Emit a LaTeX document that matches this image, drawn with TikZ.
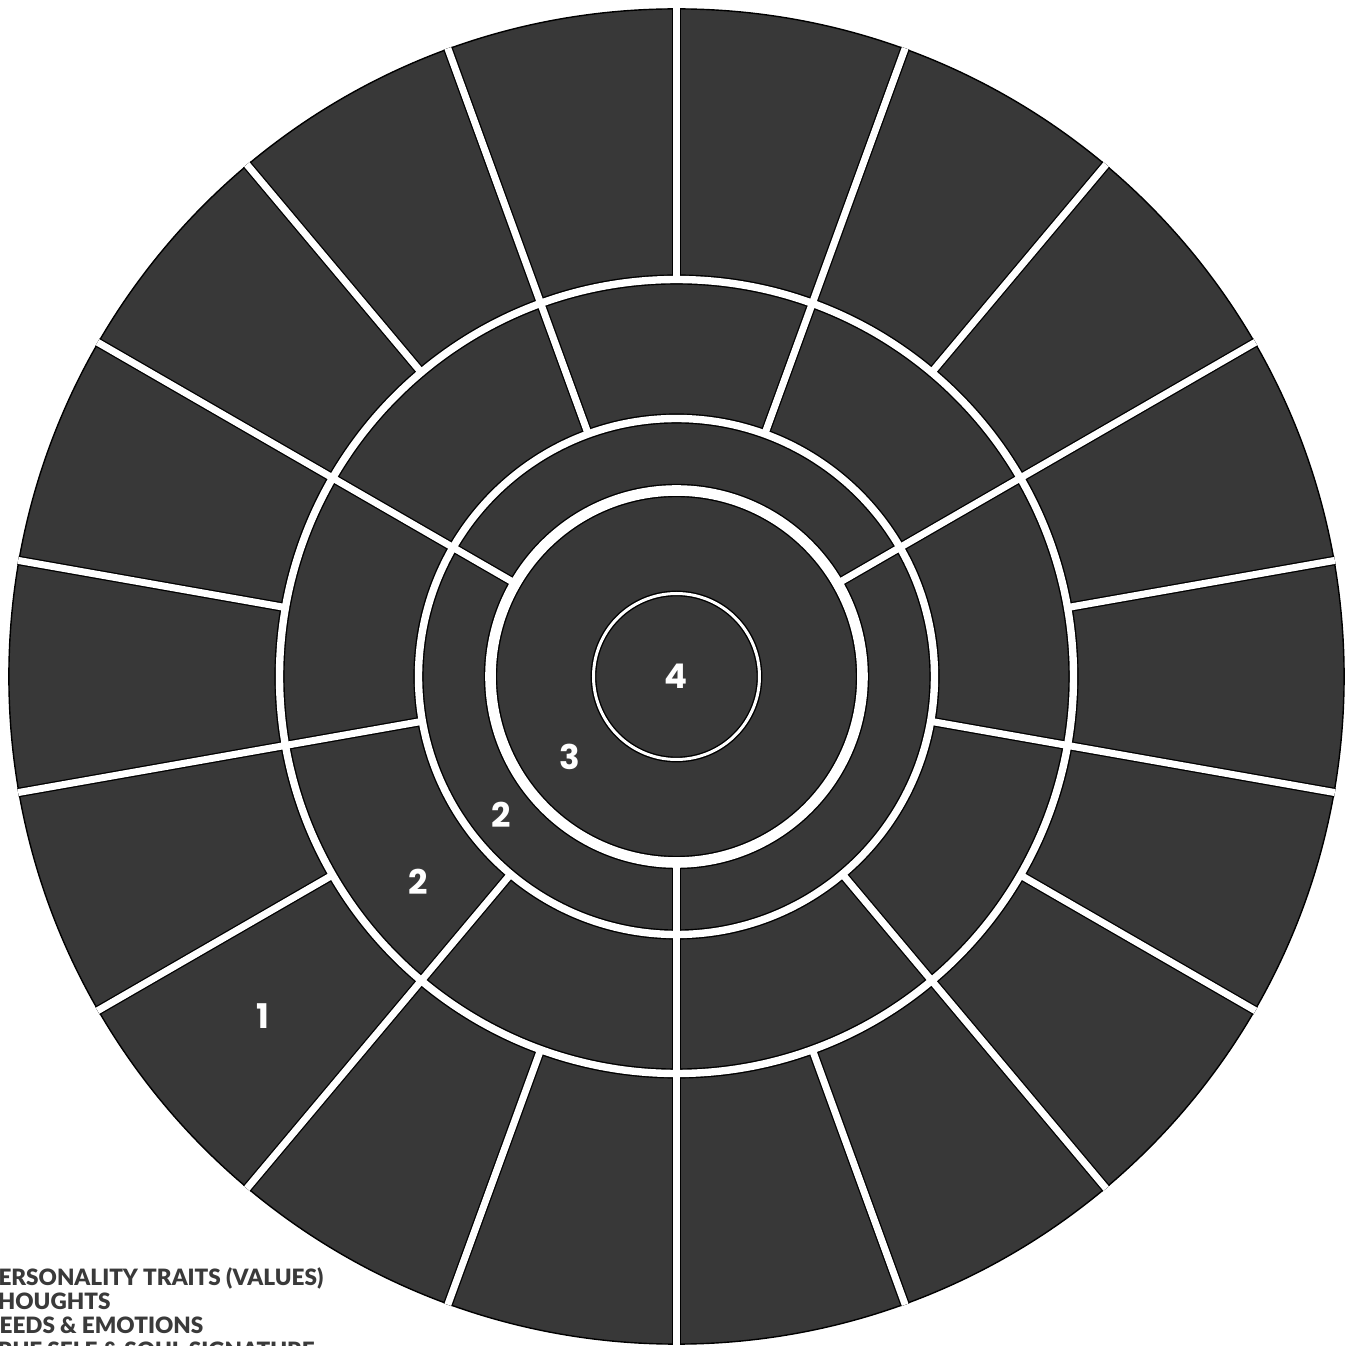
\documentclass[tikz,border=0pt]{standalone}
\usepackage{fontspec}
\setmainfont{Lato}
\IfFontExistsTF{Lato Black}
  {\newfontfamily\legendfont{Lato Black}}
  {\IfFontExistsTF{Lato Heavy}
     {\newfontfamily\legendfont{Lato Heavy}}
     {\newfontfamily\legendfont{Lato}[FakeBold=2.5]}}
\IfFontExistsTF{Poppins Bold}
  {\newfontfamily\digitfont{Poppins Bold}}
  {\IfFontExistsTF{Poppins SemiBold}
     {\newfontfamily\digitfont{Poppins SemiBold}}
     {\newfontfamily\digitfont{Lato}[FakeBold=2.5]}}
\definecolor{cellgray}{HTML}{383838}
\definecolor{textgray}{HTML}{3A3A3A}
\begin{document}
\begin{tikzpicture}[x=1pt,y=1pt,
  edgeblack/.style={draw=black, line width=#1},
  edgewhite/.style={draw=white, line width=#1},
  numlabel/.style={text=white, font=\fontsize{34}{34}\digitfont, inner sep=0pt},
  legend/.style={text=textgray, font=\fontsize{22.5}{24}\legendfont, inner sep=0pt, anchor=base west}]
\useasboundingbox (-676.5,-669.5) rectangle (676.5,676.5);
\clip (-676.5,-669.5) rectangle (676.5,676.5);
\fill[white] (-676.5,-669.5) rectangle (676.5,676.5);
% dark disk
\filldraw[fill=cellgray, draw=black, line width=1.4pt] (0,0) circle (667.6);
\begin{scope}
\clip (0,0) circle (668.4);
% black edge pass
\foreach \a in {10,30,...,350} \draw[edgeblack=9.6pt] (\a:397) -- (\a:700);
\foreach \a in {30,70,...,350} \draw[edgeblack=9.6pt] (\a:258) -- (\a:397);
\foreach \a in {30,150,270} \draw[edgeblack=9.6pt] (\a:186) -- (\a:258);
\draw[edgeblack=10.2pt] (0,0) circle (397);
\draw[edgeblack=10.2pt] (0,0) circle (258);
\draw[edgeblack=13.4pt] (0,0) circle (186);
\draw[edgeblack=5.8pt] (0,0) circle (83);
% white pass
\foreach \a in {10,30,...,350} \draw[edgewhite=7pt] (\a:397) -- (\a:700);
\foreach \a in {30,70,...,350} \draw[edgewhite=7pt] (\a:258) -- (\a:397);
\foreach \a in {30,150,270} \draw[edgewhite=7pt] (\a:186) -- (\a:258);
\draw[edgewhite=7.4pt] (0,0) circle (397);
\draw[edgewhite=7.4pt] (0,0) circle (258);
\draw[edgewhite=10.6pt] (0,0) circle (186);
\draw[edgewhite=3pt] (0,0) circle (83);
\end{scope}
% ring labels
\node[numlabel] (n4) at (0,0) {4};
\node[numlabel] (n3) at (-106.5,-80.5) {3};
\node[numlabel] (n2a) at (-175.5,-138.5) {2};
\node[numlabel] (n2b) at (-258.5,-205.5) {2};
\node[numlabel] (n1) at (-413.5,-339.5) {1};
% legend
\node[legend] (l1) at (-692.5,-608.5) {PERSONALITY TRAITS (VALUES)};
\node[legend] (l2) at (-692.5,-632.5) {THOUGHTS};
\node[legend] (l3) at (-694.5,-657) {NEEDS \& EMOTIONS};
\node[legend] (l4) at (-692.5,-681.5) {TRUE SELF \& SOUL SIGNATURE};
\end{tikzpicture}
\end{document}
